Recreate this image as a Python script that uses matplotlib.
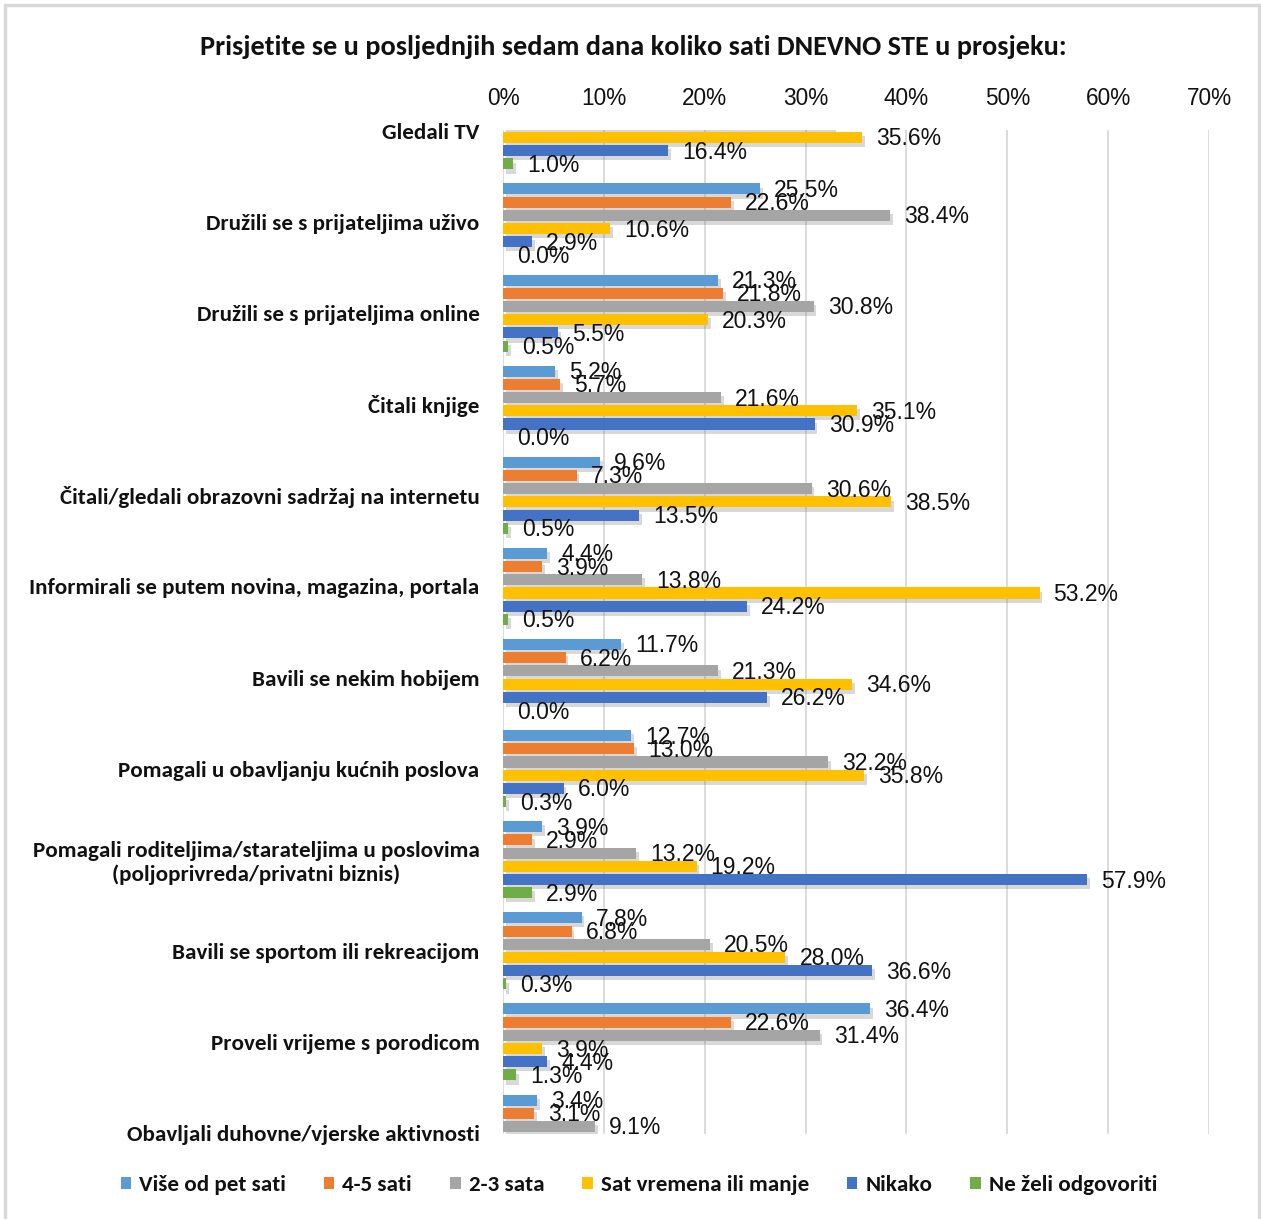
import matplotlib
matplotlib.use("Agg")
import matplotlib.pyplot as plt
from matplotlib.patches import Patch, Rectangle
from matplotlib.ticker import FuncFormatter
import matplotlib.patheffects as pe

# ---------------- data ----------------
title = "Prisjetite se u posljednjih sedam dana koliko sati DNEVNO STE u prosjeku:"
categories = [
    "Gledali TV",
    "Družili se s prijateljima uživo",
    "Družili se s prijateljima online",
    "Čitali knjige",
    "Čitali/gledali obrazovni sadržaj na internetu",
    "Informirali se putem novina, magazina, portala",
    "Bavili se nekim hobijem",
    "Pomagali u obavljanju kućnih poslova",
    "Pomagali roditeljima/starateljima u poslovima\n(poljoprivreda/privatni biznis)",
    "Bavili se sportom ili rekreacijom",
    "Proveli vrijeme s porodicom",
    "Obavljali duhovne/vjerske aktivnosti",
]
series_names = ["Više od pet sati", "4-5 sati", "2-3 sata",
                "Sat vremena ili manje", "Nikako", "Ne želi odgovoriti"]
vise_od_pet = [6.3, 25.5, 21.3, 5.2, 9.6, 4.4, 11.7, 12.7, 3.9, 7.8, 36.4, 3.4]
cetiri_pet = [8.0, 22.6, 21.8, 5.7, 7.3, 3.9, 6.2, 13.0, 2.9, 6.8, 22.6, 3.1]
dva_tri = [32.7, 38.4, 30.8, 21.6, 30.6, 13.8, 21.3, 32.2, 13.2, 20.5, 31.4, 9.1]
sat_ili_manje = [35.6, 10.6, 20.3, 35.1, 38.5, 53.2, 34.6, 35.8, 19.2, 28.0, 3.9, 34.6]
nikako = [16.4, 2.9, 5.5, 30.9, 13.5, 24.2, 26.2, 6.0, 57.9, 36.6, 4.4, 47.8]
ne_zeli = [1.0, 0.0, 0.5, 0.0, 0.5, 0.5, 0.0, 0.3, 2.9, 0.3, 1.3, 2.0]
series_values = [vise_od_pet, cetiri_pet, dva_tri, sat_ili_manje, nikako, ne_zeli]
colors = ["#5B9BD5", "#ED7D31", "#A5A5A5", "#FFC000", "#4472C4", "#70AD47"]
x_ticks = [0, 10, 20, 30, 40, 50, 60, 70]

# ---------------- fonts ----------------
CAT_FONT = ["Carlito", "Liberation Sans Narrow", "DejaVu Sans"]
NUM_FONT = ["Liberation Sans", "Arial", "DejaVu Sans"]

W, H = 1261, 1219
fig = plt.figure(figsize=(W / 100, H / 100), dpi=100)
fig.patch.set_facecolor("white")

# outer border
fig.patches.append(Rectangle((5 / W, -0.01), (1259 - 5) / W, 1 - 5 / H + 0.01,
                             transform=fig.transFigure, fill=False,
                             edgecolor="#D9D9D9", lw=2.5))

ax_left, ax_right = 503, 1209
ax_top, ax_bot = 129.5, 1133.5
ax = fig.add_axes([ax_left / W, 1 - ax_bot / H, (ax_right - ax_left) / W,
                   (ax_bot - ax_top) / H])

slot = 0.145
bar_h = 0.121
ylim_top, ylim_bot = -0.015, 11.005
n = len(series_values)
shadow = [pe.SimplePatchShadow(offset=(2, -3), shadow_rgbFace="#7F7F7F", alpha=0.3),
          pe.Normal()]
for k, (vals, col) in enumerate(zip(series_values, colors)):
    ys = [i + (k - (n - 1) / 2) * slot for i in range(len(categories))]
    bars = ax.barh(ys, vals, height=bar_h, color=col, zorder=3)
    for b in bars:
        b.set_path_effects(shadow)
    for y, v in zip(ys, vals):
        if ylim_top <= y <= ylim_bot:
            ax.annotate(f"{v:.1f}%", xy=(v, y), xytext=(14, -1.5),
                        textcoords="offset pixels", va="center", ha="left",
                        fontsize=16.5, family=NUM_FONT, color="#111111",
                        annotation_clip=False, zorder=5)

ax.set_xlim(0, 70)
ax.set_ylim(ylim_bot, ylim_top)
ax.set_xticks(x_ticks)
ax.xaxis.set_major_formatter(FuncFormatter(lambda v, p: f"{int(v)}%"))
ax.xaxis.tick_top()
ax.tick_params(axis="x", length=0, pad=14, labelsize=16.3, labelcolor="#111111")
for lbl in ax.get_xticklabels():
    lbl.set_family(NUM_FONT)
ax.set_yticks(range(len(categories)))
ax.set_yticklabels(categories)
ax.tick_params(axis="y", length=0, pad=17, labelsize=16.6, labelcolor="#111111")
for lbl in ax.get_yticklabels():
    lbl.set_family(CAT_FONT)
    lbl.set_fontweight("bold")
    lbl.set_multialignment("center")
ax.grid(axis="x", color="#D9D9D9", lw=1.3, zorder=0)
ax.grid(axis="y", visible=False)
for s in ax.spines.values():
    s.set_visible(False)

fig.text(633 / W, 1 - 47 / H, title, ha="center", va="center",
         fontsize=20.3, fontweight="bold", family=CAT_FONT, color="#111111")

handles = [Patch(facecolor=c) for c in colors]
fig.legend(handles, series_names, loc="center",
           bbox_to_anchor=(639 / W, 1 - 1185 / H), ncol=6, frameon=False,
           handlelength=0.45, handleheight=0.45, handletextpad=0.35,
           columnspacing=1.65,
           prop={"family": CAT_FONT, "size": 16.6, "weight": "bold"},
           labelcolor="#111111")

fig.savefig("out.png", dpi=100)
